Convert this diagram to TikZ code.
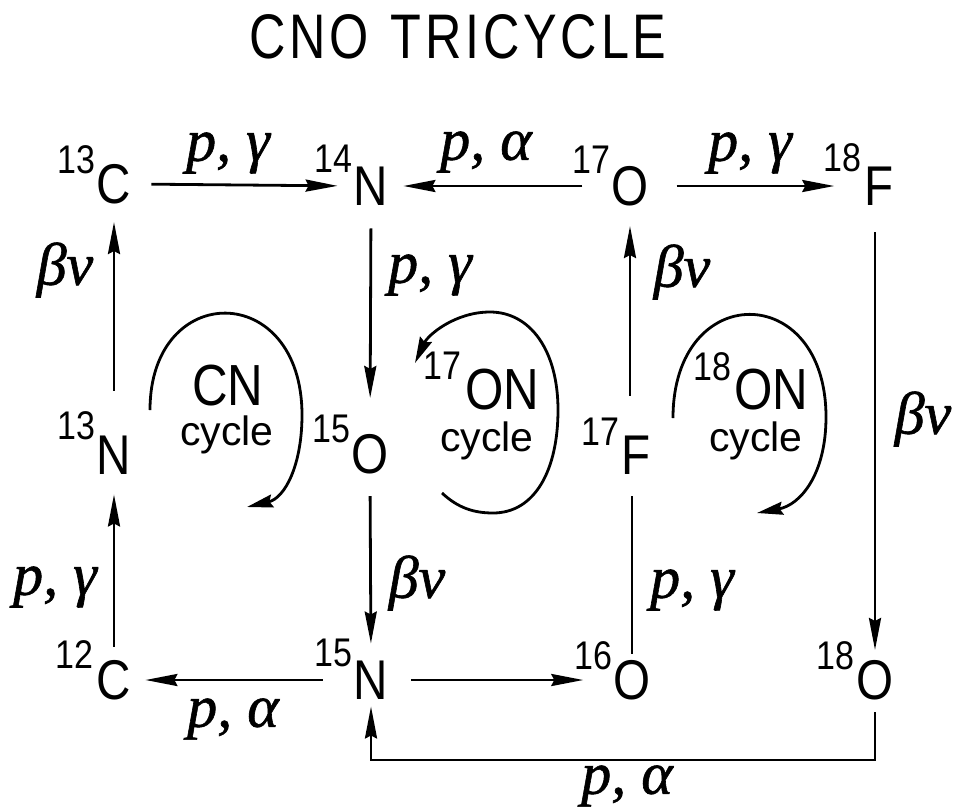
\documentclass[tikz,border=0pt]{standalone}
\usepackage{fontspec}
\setmainfont{Liberation Sans}
\newfontfamily\elfont[FakeStretch=0.85]{Liberation Sans}
\newfontfamily\ttlfont[FakeStretch=0.8,LetterSpace=6]{Liberation Sans}
\newfontfamily\rxfont[FakeBold=1]{Liberation Serif}
\usetikzlibrary{arrows.meta}
\begin{document}
\begin{tikzpicture}[x=1pt,y=-1pt,
  elem/.style={inner sep=0pt,font=\elfont\fontsize{56}{60}\selectfont},
  iso/.style={inner sep=0pt,anchor=south east,font=\elfont\fontsize{40}{44}\selectfont},
  rxn/.style={inner sep=0pt,font=\rxfont\itshape\fontsize{60}{64}\selectfont},
  cyc/.style={inner sep=0pt,font=\fontsize{41}{46}\selectfont},
  cyctop/.style={inner sep=0pt,font=\elfont\fontsize{58}{62}\selectfont},
  arr/.style={line width=2.8pt,-{Stealth[length=32pt,width=12pt,inset=3pt]}},
  ln/.style={line width=2.8pt},
  loopar/.style={line width=2.8pt,-{Stealth[length=26pt,width=13pt,inset=3pt]}}]
\useasboundingbox (0,0) rectangle (953,809);

% title
\node[inner sep=0pt,font=\ttlfont\fontsize{63}{68}\selectfont] (title) at (458,37) {CNO\hspace{22pt}TRICYCLE};

% nuclei
\node[elem] (n13C) at (114,184) {C};
\node[elem] (n14N) at (371,186) {N};
\node[elem] (n17O) at (630,186) {O};
\node[elem] (n18F) at (879,186) {F};
\node[elem] (n13N) at (114,455) {N};
\node[elem] (n15O) at (370,454) {O};
\node[elem] (n17F) at (636,455) {F};
\node[elem] (n12C) at (114,680) {C};
\node[elem] (n15N) at (371,680) {N};
\node[elem] (n16O) at (632,680) {O};
\node[elem] (n18O) at (875,680) {O};

% mass numbers
\node[iso] (s13C) at ([shift={(-1pt,-10pt)}]n13C.north west) {13};
\node[iso] (s14N) at ([shift={(-1pt,-6pt)}]n14N.north west) {14};
\node[iso] (s17O) at ([shift={(-1pt,-8pt)}]n17O.north west) {17};
\node[iso] (s18F) at ([shift={(-3pt,-6pt)}]n18F.north west) {18};
\node[iso] (s13N) at ([shift={(-1pt,-5pt)}]n13N.north west) {13};
\node[iso] (s15O) at ([shift={(-1pt,-9pt)}]n15O.north west) {15};
\node[iso] (s17F) at ([shift={(-2pt,-10pt)}]n17F.north west) {17};
\node[iso] (s12C) at ([shift={(-3pt,-9pt)}]n12C.north west) {12};
\node[iso] (s15N) at ([shift={(-1pt,-7pt)}]n15N.north west) {15};
\node[iso] (s16O) at ([shift={(-1pt,-10pt)}]n16O.north west) {16};
\node[iso] (s18O) at ([shift={(-2pt,-10pt)}]n18O.north west) {18};

% connectors
\draw[arr, shorten <=20pt, shorten >=16pt] (n13C.east) -- (n14N.west);
\draw[arr, shorten <=29pt, shorten >=15pt] (n17O.west) -- (n14N.east);
\draw[arr, shorten <=28pt, shorten >=30pt] (n17O.east) -- (n18F.west);
\draw[arr, shorten <=45pt, shorten >=18pt] (n13N.north) -- (n13C.south);
\draw[arr, shorten <=13pt, shorten >=20pt] (n12C.north) -- (n13N.south);
\draw[arr, shorten <=23pt, shorten >=36pt] (n14N.south) -- (n15O.north);
\draw[arr, shorten <=22pt, shorten >=17pt] (n15O.south) -- (n15N.north);
\draw[arr, shorten <=40pt, shorten >=20pt] (n17F.north -| n17O.south) -- (n17O.south);
\draw[ln, shorten <=6pt, shorten >=22pt] (n16O.north) -- (n16O.north |- n17F.south);
\draw[arr, shorten <=27pt, shorten >=10pt] (n18F.south -| n18O.north) -- (n18O.north);
\draw[arr, shorten <=31pt, shorten >=14pt] (n15N.west) -- (n12C.east);
\draw[arr, shorten <=23pt, shorten >=30pt] (n15N.east) -- (n16O.west);
\coordinate (bot) at (600,760);
\draw[arr, shorten <=12pt, shorten >=7pt] (n18O.south) -- (n18O.south |- bot) -- (n15N.south |- bot) -- (n15N.south);

% reaction labels
\node[rxn] (l1) at (228,153) {p, γ};
\node[rxn] (l2) at (486,152) {p, α};
\node[rxn] (l3) at (750,153) {p, γ};
\node[rxn] (l4) at (65,270) {βν};
\node[rxn] (l5) at (430,275) {p, γ};
\node[rxn] (l6) at (682,272) {βν};
\node[rxn] (l7) at (923,419) {βν};
\node[rxn] (l8) at (55,587) {p, γ};
\node[rxn] (l9) at (417,583) {βν};
\node[rxn] (l10) at (233,719) {p, α};
\node[rxn] (l11) at (692,590) {p, γ};
\node[rxn] (l12) at (627,786) {p, α};

% cycle loops
\draw[loopar] (150,410) .. controls (150,280) and (302,280) .. (302,415)
  .. controls (302,465) and (285,498) .. (247,507);
\draw[loopar] (442,493) .. controls (458,508) and (474,513) .. (493,513)
  .. controls (535,513) and (558,470) .. (558,410)
  .. controls (558,350) and (530,312) .. (490,312)
  .. controls (455,312) and (428,335) .. (415,363);
\draw[loopar] (673,418) .. controls (673,280) and (826,280) .. (826,417)
  .. controls (826,475) and (800,505) .. (757,513);

% cycle names
\node[cyctop] (cn) at (228,386) {CN};
\node[cyc] (cnc) at (227,435) {cycle};
\node[cyctop] (on17) at (502,390) {ON};
\node[iso] (on17s) at ([shift={(-3pt,-10pt)}]on17.north west) {17};
\node[cyc] (on17c) at (487,441) {cycle};
\node[cyctop] (on18) at (771,390) {ON};
\node[iso] (on18s) at ([shift={(-2pt,-12pt)}]on18.north west) {18};
\node[cyc] (on18c) at (756,441) {cycle};
\end{tikzpicture}
\end{document}
